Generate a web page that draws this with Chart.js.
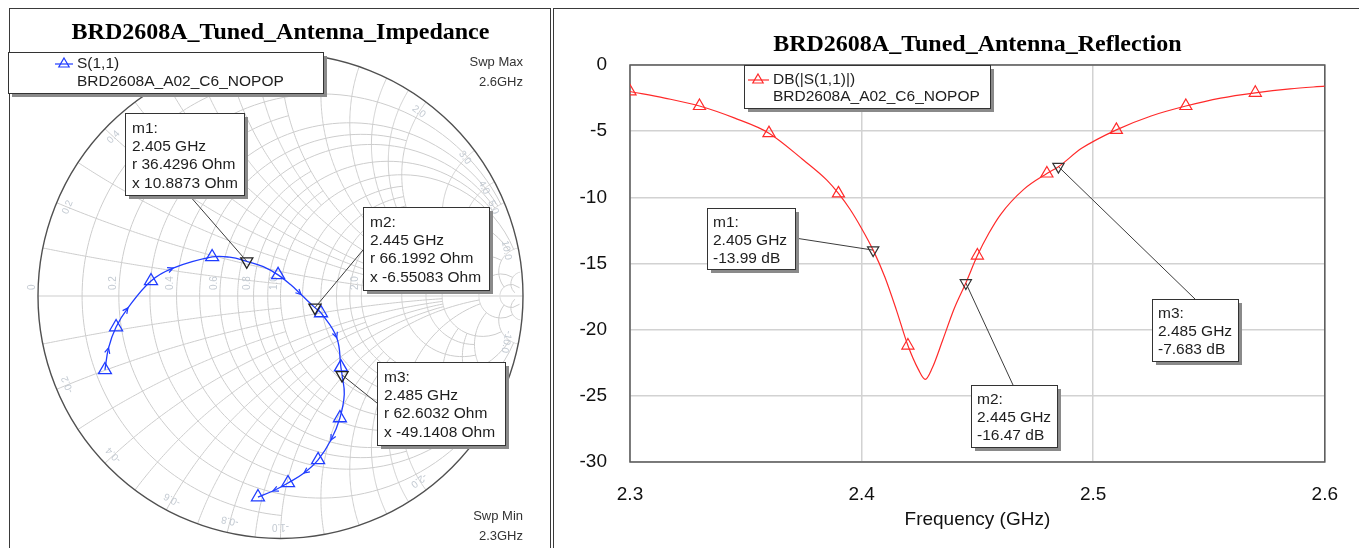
<!DOCTYPE html>
<html>
<head>
<meta charset="utf-8">
<title>BRD2608A Tuned Antenna</title>
<script src="https://cdn.jsdelivr.net/npm/chart.js@4.4.1/dist/chart.umd.min.js"></script>
<style>
  html, body { margin: 0; padding: 0; background: #fff; }
  body { width: 1359px; height: 548px; position: relative; overflow: hidden; }
  .frame { position: absolute; top: 8px; height: 600px; border: 1px solid #3a3a3a; border-bottom: none; }
  #frameL { left: 9px; width: 540px; }
  #frameR { left: 553px; width: 820px; border-right: none; }
  canvas { position: absolute; top: 0; }
  #smithChart { left: 0; }
  #dbChart { left: 553px; }
</style>
</head>
<body>
<div class="frame" id="frameL"></div>
<div class="frame" id="frameR"></div>
<canvas id="smithChart" width="550" height="548"></canvas>
<canvas id="dbChart" width="806" height="548"></canvas>
<script>
// ---- data ----
// rectangular plot: DB(|S(1,1)|) vs frequency
const freq = [2.30, 2.315, 2.33, 2.345, 2.36, 2.375, 2.385, 2.39, 2.395, 2.40, 2.405, 2.41, 2.415, 2.42,
  2.4245, 2.4275, 2.4305, 2.435, 2.44, 2.445, 2.45, 2.455, 2.46, 2.47, 2.48, 2.485, 2.495, 2.51,
  2.525, 2.54, 2.555, 2.57, 2.585, 2.60];
const s11dB = [-2.0, -2.5, -3.1, -4.0, -5.15, -7.2, -8.7, -9.7, -10.9, -12.35, -13.99, -16.0, -18.5, -21.2,
  -23.0, -23.75, -22.9, -20.8, -18.4, -16.47, -14.4, -12.7, -11.3, -9.4, -8.2, -7.683, -6.3, -4.9,
  -3.85, -3.1, -2.5, -2.1, -1.8, -1.6];
const markFreq = [2.30, 2.33, 2.36, 2.39, 2.42, 2.45, 2.48, 2.51, 2.54, 2.57];

// smith chart: reflection coefficient (real / imag) along the sweep
const sFreq = [2.300, 2.315, 2.330, 2.345, 2.360, 2.375, 2.390, 2.398, 2.405, 2.413, 2.420, 2.4275, 2.435,
  2.445, 2.450, 2.465, 2.480, 2.485, 2.495, 2.510, 2.525, 2.540, 2.555, 2.570, 2.585, 2.600];
const gRe = [-0.724, -0.709, -0.678, -0.629, -0.534, -0.443, -0.282, -0.210, -0.139, -0.071, -0.010, 0.040, 0.085,
  0.142, 0.167, 0.232, 0.249, 0.254, 0.263, 0.245, 0.208, 0.155, 0.097, 0.031, -0.031, -0.093];
const gIm = [-0.305, -0.214, -0.128, -0.049, 0.062, 0.115, 0.161, 0.160, 0.143, 0.121, 0.087, 0.048, 0.006,
  -0.048, -0.070, -0.172, -0.293, -0.326, -0.405, -0.503, -0.594, -0.676, -0.730, -0.771, -0.804, -0.829];
const sMarkFreq = [2.30, 2.33, 2.36, 2.39, 2.42, 2.45, 2.48, 2.51, 2.54, 2.57, 2.60];
const sArrowFreq = [2.315, 2.345, 2.375, 2.435, 2.465, 2.525, 2.555, 2.585];

// markers m1..m3
const mNames = ['m1', 'm2', 'm3'];
const mFreq = [2.405, 2.445, 2.485];
const mDb = [-13.99, -16.47, -7.683];
const mGamRe = [-0.139, 0.142, 0.254];
const mGamIm = [0.143, -0.048, -0.326];
const mR = ['36.4296', '66.1992', '62.6032'];
const mX = ['10.8873', '-6.55083', '-49.1408'];

const xTicks = [2.3, 2.4, 2.5, 2.6];

const SANS = "'Liberation Sans', Arial, sans-serif";
const SERIF = "'Liberation Serif', 'Times New Roman', serif";
Chart.defaults.font.family = SANS;

// ---- shared helpers ----
function noteBox(ctx, x, y, w, h) {
  ctx.fillStyle = '#8a8a8a';
  ctx.fillRect(x + 4, y + 4, w, h);
  ctx.fillStyle = '#fff';
  ctx.fillRect(x, y, w, h);
  ctx.strokeStyle = '#333';
  ctx.lineWidth = 1;
  ctx.strokeRect(x + 0.5, y + 0.5, w, h);
}
function noteText(ctx, lines, x, y0, step) {
  ctx.fillStyle = '#1e1e1e';
  ctx.font = '15.5px ' + SANS;
  ctx.textAlign = 'left';
  ctx.textBaseline = 'middle';
  lines.forEach((t, i) => ctx.fillText(t, x, y0 + i * step));
}
function leader(ctx, x0, y0, x1, y1) {
  ctx.strokeStyle = '#3c3c3c';
  ctx.lineWidth = 1;
  ctx.beginPath();
  ctx.moveTo(x0, y0);
  ctx.lineTo(x1, y1);
  ctx.stroke();
}
function tri(ctx, x, y, r, color) {
  ctx.strokeStyle = color;
  ctx.lineWidth = 1.2;
  ctx.beginPath();
  ctx.moveTo(x, y - r);
  ctx.lineTo(x + r * 0.866, y + r * 0.5);
  ctx.lineTo(x - r * 0.866, y + r * 0.5);
  ctx.closePath();
  ctx.stroke();
}

// ---- smith chart grid ----
function gam(r, x) {
  const d = (r + 1) * (r + 1) + x * x;
  return [(r * r + x * x - 1) / d, 2 * x / d];
}
const rCircles = [[0.1, 1], [0.2, 5], [0.3, 1], [0.4, 5], [0.5, 2], [0.6, 5], [0.7, 1], [0.8, 5], [0.9, 1],
  [1, 10], [1.2, 2], [1.4, 2], [1.6, 2], [1.8, 2], [2, 10], [3, 5], [4, 5], [5, 10], [10, 20], [20, 50]];
const xArcs = [[0.1, 1], [0.2, 5], [0.3, 1], [0.4, 5], [0.5, 2], [0.6, 5], [0.7, 1], [0.8, 5], [0.9, 1],
  [1, 10], [1.2, 2], [1.4, 2], [1.6, 2], [1.8, 2], [2, 10], [3, 5], [4, 5], [5, 10], [10, 20], [20, 50]];

const smithGrid = {
  id: 'smithGrid',
  beforeDatasetsDraw(chart) {
    const { ctx, scales: { x, y } } = chart;
    const P = g => [x.getPixelForValue(g[0]), y.getPixelForValue(g[1])];
    const cx = x.getPixelForValue(0), cy = y.getPixelForValue(0);
    const R = x.getPixelForValue(1) - cx;
    ctx.save();
    ctx.strokeStyle = '#cdcdcd';
    ctx.lineWidth = 1;
    const N = 140;
    rCircles.forEach(([r, xm]) => {
      const a = Math.atan(xm);
      ctx.beginPath();
      for (let i = 0; i <= N; i++) {
        const p = P(gam(r, Math.tan(-a + 2 * a * i / N)));
        i ? ctx.lineTo(p[0], p[1]) : ctx.moveTo(p[0], p[1]);
      }
      ctx.stroke();
    });
    xArcs.forEach(([xv, rm]) => {
      const a = Math.atan(rm);
      [xv, -xv].forEach(xs => {
        ctx.beginPath();
        for (let i = 0; i <= N; i++) {
          const p = P(gam(Math.tan(a * i / N), xs));
          i ? ctx.lineTo(p[0], p[1]) : ctx.moveTo(p[0], p[1]);
        }
        ctx.stroke();
      });
    });
    ctx.beginPath();
    ctx.moveTo(cx - R, cy);
    ctx.lineTo(cx + R, cy);
    ctx.stroke();
    // faint grid labels
    ctx.fillStyle = '#c3cad2';
    ctx.font = '10px ' + SANS;
    ctx.textAlign = 'left';
    ctx.textBaseline = 'bottom';
    [[0, '0'], [0.2, '0.2'], [0.4, '0.4'], [0.6, '0.6'], [0.8, '0.8'], [1, '1.0'], [2, '2.0']].forEach(([r, t]) => {
      const px = x.getPixelForValue((r - 1) / (r + 1));
      ctx.save();
      ctx.translate(px, cy);
      ctx.rotate(-Math.PI / 2);
      ctx.fillText(t, 6, -1);
      ctx.restore();
    });
    ctx.textAlign = 'center';
    ctx.textBaseline = 'middle';
    [[0.2, '0.2'], [0.4, '0.4'], [2, '2.0'], [3, '3.0'], [4, '4.0'], [5, '5.0'], [10, '10.0'],
     [-0.2, '-0.2'], [-0.4, '-0.4'], [-0.6, '-0.6'], [-0.8, '-0.8'], [-1, '-1.0'], [-2, '-2.0'], [-10, '-10.0']].forEach(([xv, t]) => {
      const g = gam(0, xv);
      const th = Math.atan2(g[1], g[0]);
      const px = cx + Math.cos(th) * (R - 12), py = cy - Math.sin(th) * (R - 12);
      ctx.save();
      ctx.translate(px, py);
      ctx.rotate(-th + Math.PI / 2);
      ctx.fillText(t, 0, 0);
      ctx.restore();
    });
    // outer rim
    ctx.strokeStyle = '#505050';
    ctx.lineWidth = 1.4;
    ctx.beginPath();
    ctx.arc(cx, cy, R, 0, Math.PI * 2);
    ctx.stroke();
    ctx.restore();
  },
  afterDatasetsDraw(chart) {
    const { ctx } = chart;
    const trace = chart.getDatasetMeta(0).data;
    const marks = chart.getDatasetMeta(1).data;
    ctx.save();
    // direction arrows along the sweep
    ctx.strokeStyle = '#1f3cff';
    ctx.lineWidth = 1.2;
    sArrowFreq.forEach(f => {
      const i = sFreq.indexOf(f);
      const a = trace[i - 1], b = trace[i + 1], p = trace[i];
      const ang = Math.atan2(b.y - a.y, b.x - a.x);
      ctx.beginPath();
      ctx.moveTo(p.x - 6 * Math.cos(ang - 0.45), p.y - 6 * Math.sin(ang - 0.45));
      ctx.lineTo(p.x, p.y);
      ctx.lineTo(p.x - 6 * Math.cos(ang + 0.45), p.y - 6 * Math.sin(ang + 0.45));
      ctx.stroke();
    });
    // legend
    noteBox(ctx, 8, 52, 315, 41);
    ctx.strokeStyle = '#1f3cff';
    ctx.lineWidth = 1.2;
    ctx.beginPath(); ctx.moveTo(55, 64); ctx.lineTo(73, 64); ctx.stroke();
    tri(ctx, 64, 64, 6, '#1f3cff');
    noteText(ctx, ['S(1,1)', 'BRD2608A_A02_C6_NOPOP'], 77, 64, 17.5);
    // marker notes
    const boxes = [[125, 113, 119, 82, 189, 195], [363, 207, 126, 83, 363, 250], [377, 362, 128, 83, 377, 403]];
    boxes.forEach(([bx, by, bw, bh, lx, ly], i) => {
      leader(ctx, lx, ly, marks[i].x, marks[i].y);
      noteBox(ctx, bx, by, bw, bh);
      noteText(ctx, [mNames[i] + ':', mFreq[i].toFixed(3) + ' GHz', 'r ' + mR[i] + ' Ohm', 'x ' + mX[i] + ' Ohm'],
        bx + 7, by + 15.5, 18.3);
    });
    // sweep limits
    ctx.fillStyle = '#333';
    ctx.font = '13px ' + SANS;
    ctx.textAlign = 'right';
    ctx.textBaseline = 'middle';
    ctx.fillText('Swp Max', 523, 62);
    ctx.fillText('2.6GHz', 523, 82);
    ctx.fillText('Swp Min', 523, 516);
    ctx.fillText('2.3GHz', 523, 536);
    ctx.restore();
  }
};

new Chart(document.getElementById('smithChart'), {
  type: 'scatter',
  data: {
    datasets: [{
      label: 'S(1,1)',
      data: sFreq.map((f, i) => ({ x: gRe[i], y: gIm[i] })),
      showLine: true,
      borderColor: '#1f3cff',
      borderWidth: 1.3,
      tension: 0.4,
      clip: false,
      order: 1,
      pointStyle: 'triangle',
      pointRadius: c => sMarkFreq.includes(sFreq[c.dataIndex]) ? 7.5 : 0,
      pointBorderColor: '#1f3cff',
      pointBackgroundColor: 'rgba(0,0,0,0)',
      pointBorderWidth: 1.3
    }, {
      label: 'markers',
      data: mGamRe.map((g, i) => ({ x: g, y: mGamIm[i] })),
      showLine: false,
      clip: false,
      order: 0,
      pointStyle: 'triangle',
      rotation: 180,
      pointRadius: 7,
      pointBorderColor: '#222',
      pointBackgroundColor: 'rgba(0,0,0,0)',
      pointBorderWidth: 1.3
    }]
  },
  options: {
    responsive: false,
    animation: false,
    layout: { padding: { left: 38, right: 27, top: 0, bottom: 9.5 } },
    scales: {
      x: { type: 'linear', min: -1, max: 1, display: false },
      y: { type: 'linear', min: -1, max: 1, display: false }
    },
    plugins: {
      legend: { display: false },
      tooltip: { enabled: false },
      title: {
        display: true,
        text: 'BRD2608A_Tuned_Antenna_Impedance',
        fullSize: false,
        color: '#000',
        font: { family: SERIF, size: 24, weight: 'bold' },
        padding: { top: 18.6, bottom: 6.1 }
      }
    }
  },
  plugins: [smithGrid]
});

// ---- rectangular dB plot ----
const dbNotes = {
  id: 'dbNotes',
  beforeDatasetsDraw(chart) {
    const { ctx, chartArea: a } = chart;
    ctx.save();
    ctx.strokeStyle = '#5a5a5a';
    ctx.lineWidth = 1.5;
    ctx.strokeRect(a.left, a.top, a.right - a.left, a.bottom - a.top);
    ctx.restore();
  },
  afterDatasetsDraw(chart) {
    const { ctx } = chart;
    const marks = chart.getDatasetMeta(1).data;
    ctx.save();
    // legend
    noteBox(ctx, 191, 65, 246, 43);
    ctx.strokeStyle = '#ff2a2a';
    ctx.lineWidth = 1.2;
    ctx.beginPath(); ctx.moveTo(195, 80); ctx.lineTo(216, 80); ctx.stroke();
    tri(ctx, 205, 80, 6, '#ff2a2a');
    noteText(ctx, ['DB(|S(1,1)|)', 'BRD2608A_A02_C6_NOPOP'], 220, 80, 16.5);
    // marker notes
    const boxes = [[154, 208, 88, 61, 242, 238], [418, 385, 86, 62, 460, 385], [599, 299, 86, 62, 642, 299]];
    boxes.forEach(([bx, by, bw, bh, lx, ly], i) => {
      leader(ctx, lx, ly, marks[i].x, marks[i].y);
      noteBox(ctx, bx, by, bw, bh);
      noteText(ctx, [mNames[i] + ':', mFreq[i].toFixed(3) + ' GHz', mDb[i] + ' dB'], bx + 6, by + 15, 17.7);
    });
    ctx.restore();
  }
};

new Chart(document.getElementById('dbChart'), {
  type: 'line',
  data: {
    datasets: [{
      label: 'DB(|S(1,1)|)',
      data: freq.map((f, i) => ({ x: f, y: s11dB[i] })),
      borderColor: '#ff2a2a',
      borderWidth: 1.2,
      cubicInterpolationMode: 'monotone',
      order: 1,
      pointStyle: 'triangle',
      pointRadius: c => markFreq.includes(freq[c.dataIndex]) ? 7 : 0,
      pointBorderColor: '#ff2a2a',
      pointBackgroundColor: 'rgba(0,0,0,0)',
      pointBorderWidth: 1.2
    }, {
      label: 'markers',
      data: mFreq.map((f, i) => ({ x: f, y: mDb[i] })),
      showLine: false,
      order: 0,
      pointStyle: 'triangle',
      rotation: 180,
      pointRadius: 6.5,
      pointBorderColor: '#333',
      pointBackgroundColor: 'rgba(0,0,0,0)',
      pointBorderWidth: 1.2
    }]
  },
  options: {
    responsive: false,
    animation: false,
    layout: { padding: { left: 0, right: 33, top: 0, bottom: 0 } },
    scales: {
      x: {
        type: 'linear', min: 2.3, max: 2.6,
        afterBuildTicks: s => { s.ticks = xTicks.map(v => ({ value: v })); },
        afterFit: s => { s.height = 86; },
        ticks: { padding: 21, color: '#111', font: { size: 19 }, callback: v => v.toFixed(1), maxRotation: 0 },
        grid: { color: '#d2d2d2', lineWidth: 1.5, drawTicks: false },
        border: { display: false },
        title: { display: true, text: 'Frequency (GHz)', color: '#111', font: { size: 19 }, padding: 17 }
      },
      y: {
        min: -30, max: 0,
        afterFit: s => { s.width = 77; },
        ticks: { stepSize: 5, padding: 23, color: '#111', font: { size: 19 } },
        grid: { color: '#d2d2d2', lineWidth: 1.5, drawTicks: false },
        border: { display: false }
      }
    },
    plugins: {
      legend: { display: false },
      tooltip: { enabled: false },
      title: {
        display: true,
        text: 'BRD2608A_Tuned_Antenna_Reflection',
        fullSize: false,
        color: '#000',
        font: { family: SERIF, size: 24, weight: 'bold' },
        padding: { top: 30.6, bottom: 5.6 }
      }
    }
  },
  plugins: [dbNotes]
});
</script>
</body>
</html>
